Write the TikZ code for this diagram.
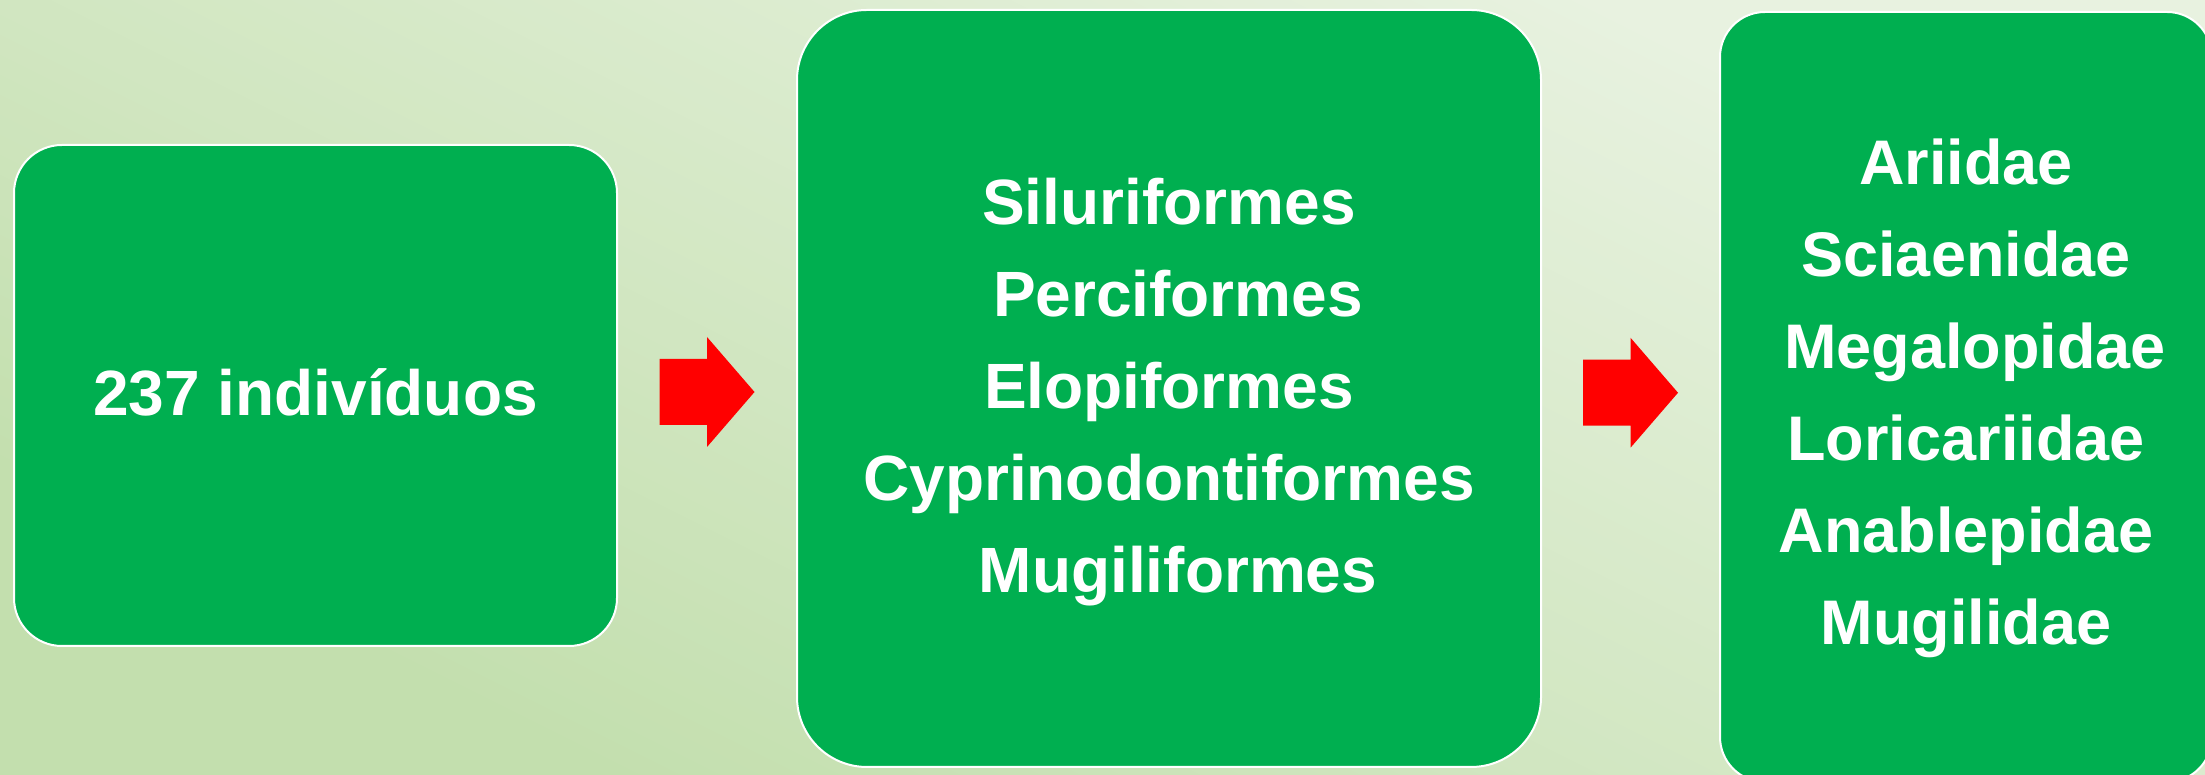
\documentclass[tikz,border=0pt]{standalone}
\usepackage{fontspec}
\setmainfont{Liberation Sans}
\usetikzlibrary{calc}
\definecolor{bgdark}{HTML}{C3DFAE}
\definecolor{bglight}{HTML}{E8F2E0}
\definecolor{boxgreen}{HTML}{00AF50}
\definecolor{arrowred}{HTML}{FF0000}
\begin{document}
\begin{tikzpicture}[x=1pt,y=1pt,
  box/.style={draw=white, line width=2pt, fill=boxgreen, text=white, align=center, inner sep=0pt},
  boxfont/.style={font=\bfseries\fontsize{#1}{92}\selectfont},
  blockarrow/.pic={\fill[arrowred] (-47.5,-33) -- (0,-33) -- (0,-55) -- (47.5,0) -- (0,55) -- (0,33) -- (-47.5,33) -- cycle;}]
\useasboundingbox (0,0) rectangle (2205,775);
% background gradient
\begin{scope}
\clip (0,0) rectangle (2205,775);
\foreach \i in {0,...,94} {
  \pgfmathsetmacro{\pp}{\i*40}
  \pgfmathsetmacro{\gshade}{min(100,max(0,(\pp+20-600)/25.5))}
  \fill[bglight!\gshade!bgdark] (\pp+400,-200) -- (\pp-2000,1000) -- (\pp+42-2000,1000) -- (\pp+442,-200) -- cycle;
}
\end{scope}
% boxes
\node[box, boxfont=64, rounded corners=48pt, minimum width=603pt, minimum height=501pt,
      text height=46pt, text depth=5pt] (b1) at (315.5,379.5) {237 indivíduos};
\node[box, boxfont=64, rounded corners=70pt, minimum width=744pt, minimum height=757pt,
      text height=424pt, text depth=15pt] (b2) at (1169,386.5)
  {Siluriformes\\\hspace*{18pt}Perciformes\\Elopiformes\\Cyprinodontiformes\\\hspace*{18pt}Mugiliformes};
\node[box, boxfont=63, rounded corners=45pt, minimum width=492pt, minimum height=770pt,
      text height=511pt, text depth=15pt] (b3) at (1966,378)
  {Ariidae\\Sciaenidae\\\hspace*{18pt}Megalopidae\\Loricariidae\\Anablepidae\\Mugilidae};
% arrows
\pic at ($(b1.east)!0.5!(b2.west)$) {blockarrow};
\pic at ($(b2.east)!0.5!(b3.west)$) {blockarrow};
\end{tikzpicture}
\end{document}
